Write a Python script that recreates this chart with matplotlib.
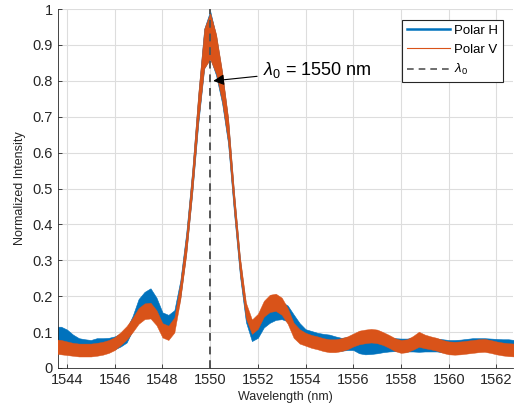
import matplotlib
matplotlib.use("Agg")
import matplotlib.pyplot as plt
from matplotlib.lines import Line2D
import numpy as np

plt.rcParams['font.family'] = ['Liberation Sans', 'DejaVu Sans']
plt.rcParams['mathtext.fontset'] = 'custom'
plt.rcParams['mathtext.rm'] = 'Liberation Sans'
plt.rcParams['mathtext.it'] = 'Liberation Sans:italic'

# Wavelength grid (nm), 0.25 nm steps
wavelength = [1543.50 + 0.25 * i for i in range(78)]

# Polar H, centre of the noisy trace
polar_h = [
    0.095, 0.095, 0.088, 0.075, 0.065, 0.062, 0.060, 0.065, 0.065, 0.066,
    0.070, 0.078, 0.090, 0.125, 0.170, 0.190, 0.200, 0.175, 0.135, 0.128,
    0.140, 0.220, 0.350, 0.520, 0.720, 0.890, 0.930, 0.870, 0.780, 0.660,
    0.460, 0.280, 0.150, 0.095, 0.105, 0.135, 0.150, 0.158, 0.160, 0.152,
    0.128, 0.105, 0.090, 0.085, 0.080, 0.077, 0.075, 0.070, 0.066, 0.068,
    0.068, 0.060, 0.057, 0.058, 0.060, 0.062, 0.064, 0.065, 0.064, 0.064,
    0.065, 0.066, 0.065, 0.064, 0.064, 0.062, 0.060, 0.060, 0.061, 0.063,
    0.065, 0.065, 0.065, 0.064, 0.063, 0.062, 0.062, 0.060,
]

# Polar V, centre of the noisy trace
polar_v = [
    0.060, 0.058, 0.055, 0.052, 0.050, 0.050, 0.050, 0.052, 0.055, 0.060,
    0.068, 0.082, 0.098, 0.120, 0.145, 0.158, 0.160, 0.140, 0.105, 0.098,
    0.120, 0.215, 0.345, 0.520, 0.725, 0.890, 0.925, 0.875, 0.785, 0.665,
    0.465, 0.285, 0.160, 0.115, 0.130, 0.165, 0.180, 0.183, 0.172, 0.145,
    0.105, 0.088, 0.080, 0.074, 0.070, 0.065, 0.062, 0.062, 0.065, 0.070,
    0.078, 0.085, 0.088, 0.090, 0.088, 0.082, 0.074, 0.065, 0.060, 0.062,
    0.070, 0.080, 0.074, 0.070, 0.066, 0.060, 0.056, 0.055, 0.056, 0.058,
    0.060, 0.062, 0.063, 0.060, 0.056, 0.053, 0.051, 0.050,
]

# Half-width of the noise band around each trace
noise = [
    0.020, 0.020, 0.019, 0.018, 0.018, 0.018, 0.018, 0.018, 0.018, 0.018,
    0.018, 0.018, 0.019, 0.020, 0.022, 0.022, 0.022, 0.021, 0.020, 0.020,
    0.021, 0.024, 0.028, 0.032, 0.040, 0.055, 0.065, 0.055, 0.042, 0.034,
    0.028, 0.024, 0.022, 0.020, 0.021, 0.022, 0.024, 0.024, 0.024, 0.022,
    0.021, 0.020, 0.018, 0.018, 0.018, 0.018, 0.018, 0.018, 0.018, 0.018,
    0.018, 0.019, 0.019, 0.019, 0.019, 0.018, 0.018, 0.018, 0.018, 0.018,
    0.019, 0.021, 0.019, 0.018, 0.018, 0.018, 0.018, 0.018, 0.018, 0.018,
    0.018, 0.018, 0.018, 0.018, 0.018, 0.018, 0.018, 0.018,
]

lambda0 = 1550
blue = '#0072BD'
orange = '#D95319'
txt = '#262626'

x = np.array(wavelength)
h = np.array(polar_h)
v = np.array(polar_v)
n = np.array(noise)

fig = plt.figure(figsize=(5.22, 4.13), dpi=100)
ax = fig.add_axes([0.111, 0.109, 0.872, 0.869])

ax.fill_between(x, h - n, h + n, color=blue, lw=0.4, edgecolor=blue, zorder=2)
ax.fill_between(x, v - n, v + n, color=orange, lw=0.3, edgecolor=orange, zorder=3)
ax.plot([lambda0, lambda0], [0, 1], color='#555555', lw=1.4, ls=(0, (4, 3)), zorder=4)

ax.annotate(r'$\lambda_0$ = 1550 nm', xy=(1550.13, 0.80), xytext=(1552.2, 0.83),
            fontsize=13, va='center', ha='left', color='black',
            arrowprops=dict(arrowstyle='-|>', color='black', lw=0.8,
                            mutation_scale=16, shrinkA=2, shrinkB=0))

ax.set_xlim(1543.62, 1562.7)
ax.set_ylim(0, 1)
ax.set_xticks(np.arange(1544, 1563, 2))
ax.set_yticks(np.arange(0, 1.01, 0.1))
ax.set_yticklabels(['0', '0.1', '0.2', '0.3', '0.4', '0.5', '0.6', '0.7', '0.8', '0.9', '1'])
ax.tick_params(direction='in', length=3, labelsize=10.5, colors=txt, width=0.6)
ax.grid(True, color='#dddddd', lw=0.8)
ax.set_axisbelow(True)
for s in ['top', 'right']:
    ax.spines[s].set_visible(False)
for s in ['left', 'bottom']:
    ax.spines[s].set_color(txt)
    ax.spines[s].set_linewidth(0.6)

ax.set_xlabel('Wavelength (nm)', fontsize=9, color=txt, labelpad=3)
ax.set_ylabel('Normalized Intensity', fontsize=9, color=txt, labelpad=5)

handles = [Line2D([], [], color=blue, lw=1.8),
           Line2D([], [], color=orange, lw=0.8),
           Line2D([], [], color='#555555', lw=1.2, ls=(0, (4, 3)))]
leg = ax.legend(handles, ['Polar H', 'Polar V', r'$\lambda_0$'], loc='upper right',
                bbox_to_anchor=(0.977, 0.97), fontsize=9.5, fancybox=False,
                framealpha=1, edgecolor='#262626', handlelength=3.3,
                borderpad=0.35, labelspacing=0.5, handletextpad=0.3, borderaxespad=0)
leg.get_frame().set_linewidth(0.8)

fig.savefig('out.png', dpi=100)
